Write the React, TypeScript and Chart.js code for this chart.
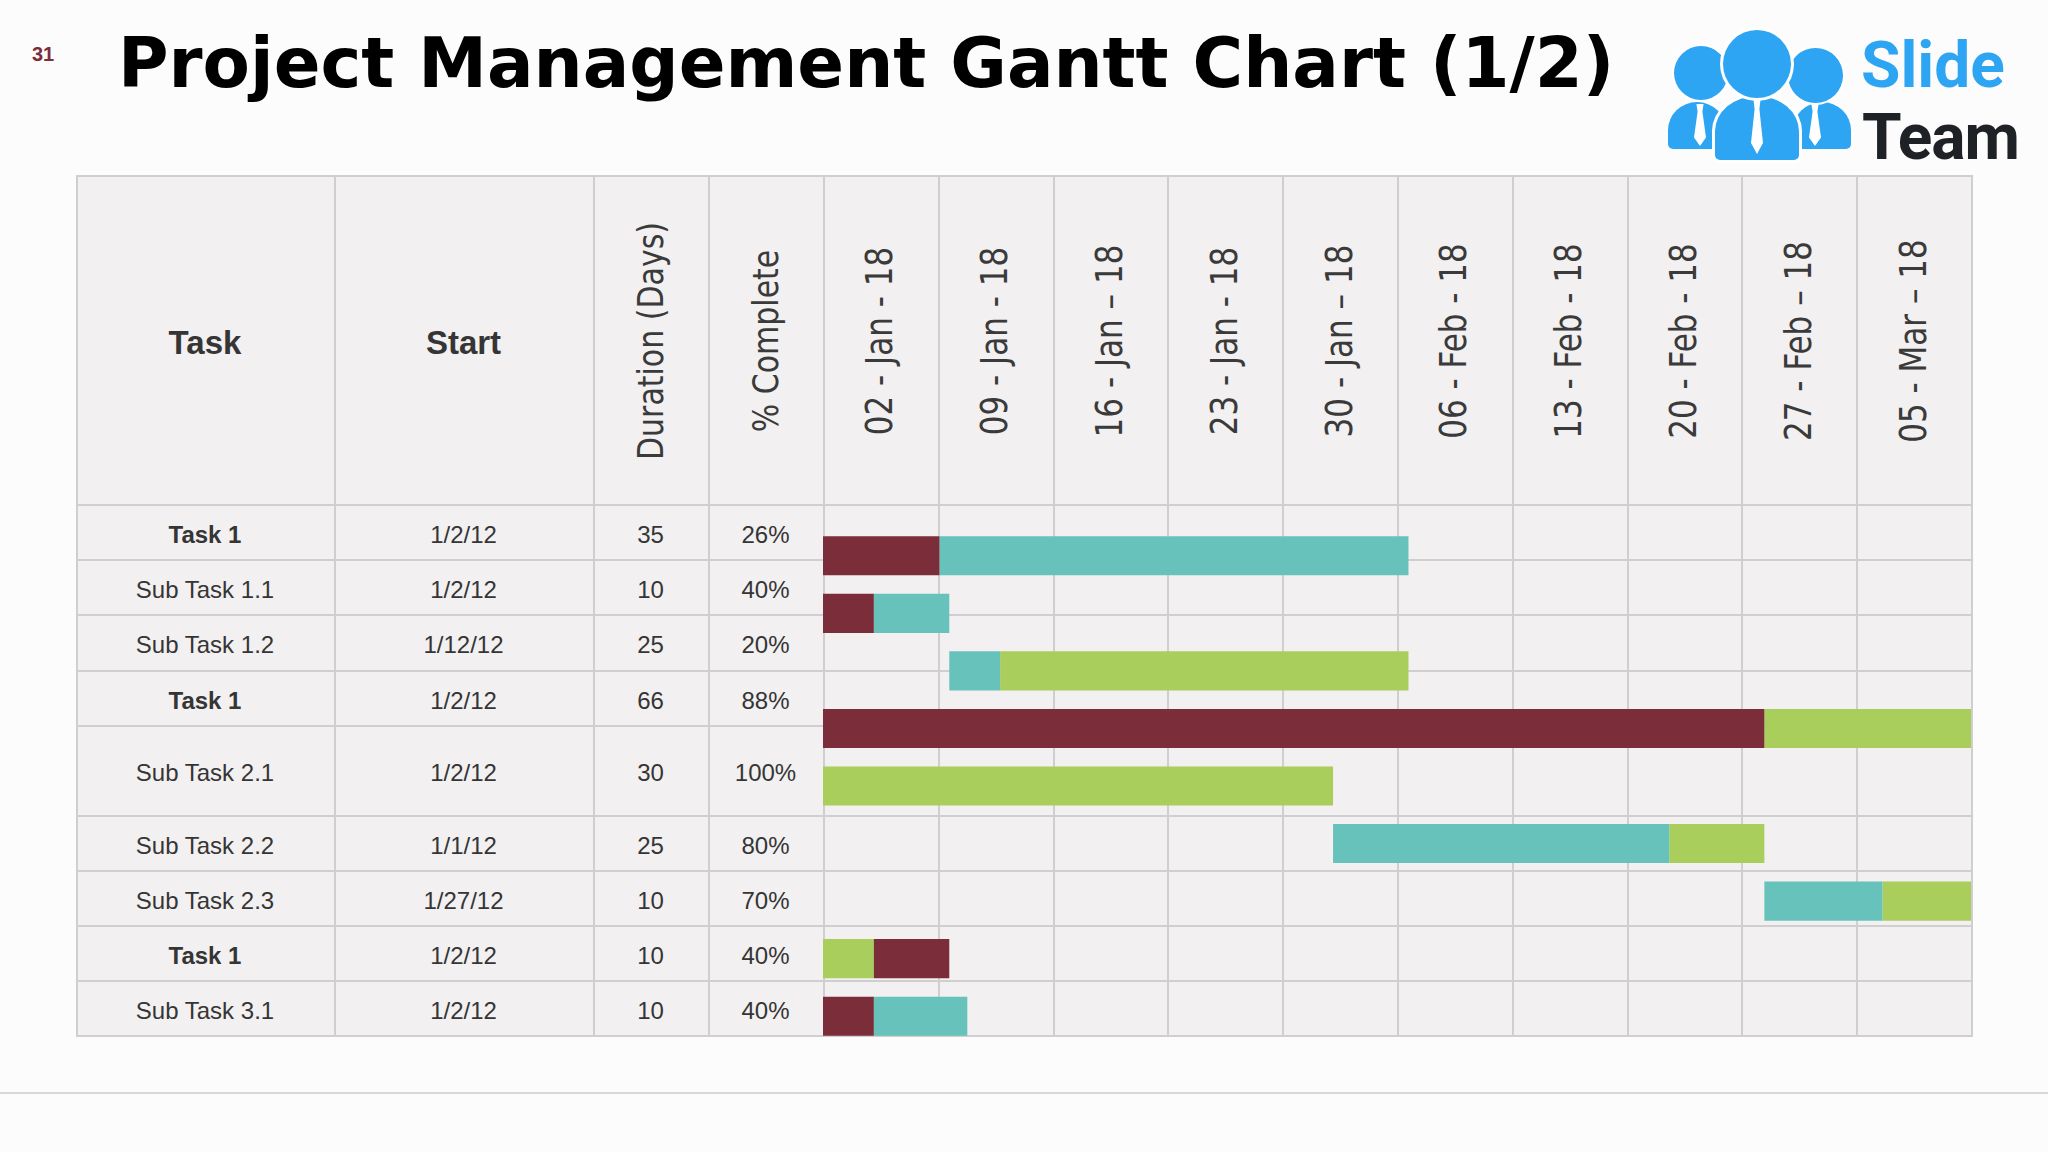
import React, { useEffect, useRef } from "react";
import { Chart, registerables } from "chart.js";

Chart.register(...registerables);

// ---------- data ----------
const taskNames = [
  "Task 1",
  "Sub Task 1.1",
  "Sub Task 1.2",
  "Task 1",
  "Sub Task 2.1",
  "Sub Task 2.2",
  "Sub Task 2.3",
  "Task 1",
  "Sub Task 3.1",
];
const isParent = [true, false, false, true, false, false, false, true, false];
const startDates = ["1/2/12", "1/2/12", "1/12/12", "1/2/12", "1/2/12", "1/1/12", "1/27/12", "1/2/12", "1/2/12"];
const durations = [35, 10, 25, 66, 30, 25, 10, 10, 10];
const percentComplete = ["26%", "40%", "20%", "88%", "100%", "80%", "70%", "40%", "40%"];
const weekLabels = [
  "02 - Jan - 18",
  "09 - Jan - 18",
  "16 - Jan – 18",
  "23 - Jan - 18",
  "30 - Jan – 18",
  "06 - Feb - 18",
  "13 - Feb - 18",
  "20 - Feb - 18",
  "27 - Feb – 18",
  "05 - Mar – 18",
];
// bar segments in days from 02-Jan
const maroonSegments: ([number, number] | null)[] = [
  [0, 7.1], [0, 3.1], null, [0, 57.4], null, null, null, [3.1, 7.7], [0, 3.1],
];
const tealSegments: ([number, number] | null)[] = [
  [7.1, 35.7], [3.1, 7.7], [7.7, 10.8], null, null, [31.1, 51.6], [57.4, 64.6], null, [3.1, 8.8],
];
const greenSegments: ([number, number] | null)[] = [
  null, null, [10.8, 35.7], [57.4, 70], [0, 31.1], [51.6, 57.4], [64.6, 70], [0, 3.1], null,
];
const timelineDays = 70;

// ---------- style ----------
const MAROON = "#7B2E3A";
const TEAL = "#67C2BB";
const GREEN = "#AACE5C";
const BLUE = "#2DA5F3";
const CELL_BG = "#F2F0F1";
const LINE = "#D0CFD0";
const TEXT = "#353535";

const TABLE_LEFT = 76;
const TABLE_RIGHT = 1971;
const GANTT_LEFT = 823;
const WEEK_W = (TABLE_RIGHT - GANTT_LEFT) / 10;
const colX = [76, 334, 593, 708, 823];
for (let i = 1; i <= 10; i++) colX.push(GANTT_LEFT + i * WEEK_W);
const rowY = [176, 505, 560, 615, 671, 726, 816, 871, 926, 981, 1036];

const CHART_TOP = 527;
const CHART_H = 518;

export default function App() {
  const ref = useRef<HTMLCanvasElement>(null);

  useEffect(() => {
    if (!ref.current) return;
    const common = { grouped: false, barPercentage: 0.68, categoryPercentage: 1, borderWidth: 0 };
    const chart = new Chart(ref.current, {
      type: "bar",
      data: {
        labels: taskNames,
        datasets: [
          { label: "Maroon", data: maroonSegments as any, backgroundColor: MAROON, ...common } as any,
          { label: "Teal", data: tealSegments as any, backgroundColor: TEAL, ...common } as any,
          { label: "Green", data: greenSegments as any, backgroundColor: GREEN, ...common } as any,
        ],
      },
      options: {
        indexAxis: "y",
        responsive: false,
        animation: false,
        layout: { padding: 0 },
        plugins: { legend: { display: false }, tooltip: { enabled: false } },
        scales: {
          x: { type: "linear", min: 0, max: timelineDays, display: false },
          y: { display: false },
        },
      },
    });
    return () => chart.destroy();
  }, []);

  const cellText = (
    key: string,
    x0: number,
    x1: number,
    y0: number,
    y1: number,
    text: string,
    style: React.CSSProperties
  ) => (
    <div
      key={key}
      style={{
        position: "absolute",
        left: x0,
        top: y0,
        width: x1 - x0,
        height: y1 - y0,
        display: "flex",
        alignItems: "center",
        justifyContent: "center",
        whiteSpace: "nowrap",
        color: TEXT,
        boxSizing: "border-box",
        ...style,
      }}
    >
      {text}
    </div>
  );

  const rotated = (key: string, cx: number, cy: number, text: string, size: number) => (
    <div
      key={key}
      style={{
        position: "absolute",
        left: cx,
        top: cy,
        transform: "translate(-50%, -50%) rotate(-90deg) scaleY(1.18)",
        fontFamily: "'DejaVu Sans', sans-serif",
        fontSize: size,
        lineHeight: 1,
        color: "#3a3a3a",
        whiteSpace: "nowrap",
      }}
    >
      {text}
    </div>
  );

  const headerMidY = (rowY[0] + rowY[1]) / 2;
  const bodyFont: React.CSSProperties = {
    fontFamily: "'Liberation Sans', Arial, sans-serif",
    fontSize: 24,
    paddingTop: 4,
  };

  return (
    <div
      style={{
        position: "absolute",
        left: 0,
        top: 0,
        width: 2048,
        height: 1152,
        overflow: "hidden",
        background: "#FCFCFC",
      }}
    >
      {/* page number */}
      <div
        style={{
          position: "absolute",
          left: 32,
          top: 44,
          fontFamily: "'Liberation Sans', Arial, sans-serif",
          fontWeight: 700,
          fontSize: 20,
          lineHeight: 1,
          color: MAROON,
        }}
      >
        31
      </div>
      {/* title */}
      <div
        style={{
          position: "absolute",
          left: 118,
          top: 29,
          fontFamily: "'DejaVu Sans', sans-serif",
          fontWeight: 700,
          fontSize: 69,
          lineHeight: 1,
          color: "#000",
          whiteSpace: "nowrap",
        }}
      >
        Project Management Gantt Chart (1/2)
      </div>

      {/* logo */}
      <div style={{ position: "absolute", left: 1668, top: 102, width: 58, height: 47, background: BLUE, borderRadius: "50% 50% 5px 5px / 60% 60% 5px 5px" }} />
      <div style={{ position: "absolute", left: 1793, top: 102, width: 58, height: 47, background: BLUE, borderRadius: "50% 50% 5px 5px / 60% 60% 5px 5px" }} />
      <div style={{ position: "absolute", left: 1674, top: 46, width: 54, height: 54, background: BLUE, borderRadius: "50%", boxShadow: "0 0 0 2px #fff" }} />
      <div style={{ position: "absolute", left: 1788, top: 48, width: 55, height: 55, background: BLUE, borderRadius: "50%", boxShadow: "0 0 0 2px #fff" }} />
      <div style={{ position: "absolute", left: 1715, top: 96, width: 84, height: 64, background: BLUE, borderRadius: "50% 50% 5px 5px / 55% 55% 5px 5px", boxShadow: "0 0 0 3px #fff" }} />
      <div style={{ position: "absolute", left: 1723, top: 30, width: 68, height: 68, background: BLUE, borderRadius: "50%", boxShadow: "0 0 0 3px #fff" }} />
      {[
        { x: 1700, y: 104, h: 42 },
        { x: 1757, y: 99, h: 55 },
        { x: 1815, y: 104, h: 42 },
      ].map((t, i) => (
        <div
          key={"tie" + i}
          style={{
            position: "absolute",
            left: t.x - 6,
            top: t.y,
            width: 12,
            height: t.h,
            background: "#fff",
            clipPath: "polygon(20% 0, 80% 0, 70% 18%, 100% 80%, 50% 100%, 0 80%, 30% 18%)",
          }}
        />
      ))}
      <div style={{ position: "absolute", left: 1861, top: 34, fontFamily: "Roboto, sans-serif", fontWeight: 700, fontSize: 64, lineHeight: 1, color: BLUE }}>
        Slide
      </div>
      <div style={{ position: "absolute", left: 1862, top: 106, fontFamily: "Roboto, sans-serif", fontWeight: 700, fontSize: 64, lineHeight: 1, color: "#1E2227", letterSpacing: -1 }}>
        Team
      </div>

      {/* table background */}
      <div
        style={{
          position: "absolute",
          left: TABLE_LEFT,
          top: rowY[0],
          width: TABLE_RIGHT - TABLE_LEFT,
          height: rowY[rowY.length - 1] - rowY[0],
          background: CELL_BG,
        }}
      />
      {/* vertical lines */}
      {colX.map((x, i) => (
        <div
          key={"v" + i}
          style={{
            position: "absolute",
            left: Math.round(x),
            top: rowY[0],
            width: 1.5,
            height: rowY[rowY.length - 1] - rowY[0],
            background: LINE,
          }}
        />
      ))}
      {/* horizontal lines */}
      {rowY.map((y, i) => (
        <div
          key={"h" + i}
          style={{
            position: "absolute",
            left: TABLE_LEFT,
            top: y - 1,
            width: TABLE_RIGHT - TABLE_LEFT + 1.5,
            height: 2,
            background: LINE,
          }}
        />
      ))}

      {/* header */}
      {cellText("hTask", colX[0], colX[1], rowY[0], rowY[1], "Task", {
        fontFamily: "'Liberation Sans', Arial, sans-serif",
        fontWeight: 700,
        fontSize: 33,
        paddingTop: 4,
      })}
      {cellText("hStart", colX[1], colX[2], rowY[0], rowY[1], "Start", {
        fontFamily: "'Liberation Sans', Arial, sans-serif",
        fontWeight: 700,
        fontSize: 33,
        paddingTop: 4,
      })}
      {rotated("hDur", (colX[2] + colX[3]) / 2, headerMidY, "Duration (Days)", 30)}
      {rotated("hPct", (colX[3] + colX[4]) / 2, headerMidY, "% Complete", 30)}
      {weekLabels.map((w, i) => rotated("w" + i, GANTT_LEFT + (i + 0.5) * WEEK_W, headerMidY, w, 31))}

      {/* body rows */}
      {taskNames.map((name, i) => {
        const y0 = rowY[i + 1];
        const y1 = rowY[i + 2];
        return (
          <React.Fragment key={"r" + i}>
            {cellText("n" + i, colX[0], colX[1], y0, y1, name, { ...bodyFont, fontWeight: isParent[i] ? 700 : 400 })}
            {cellText("s" + i, colX[1], colX[2], y0, y1, startDates[i], bodyFont)}
            {cellText("d" + i, colX[2], colX[3], y0, y1, String(durations[i]), bodyFont)}
            {cellText("p" + i, colX[3], colX[4], y0, y1, percentComplete[i], bodyFont)}
          </React.Fragment>
        );
      })}

      {/* gantt bars */}
      <canvas
        ref={ref}
        width={Math.round(TABLE_RIGHT - GANTT_LEFT)}
        height={CHART_H}
        style={{
          position: "absolute",
          left: GANTT_LEFT,
          top: CHART_TOP,
          width: Math.round(TABLE_RIGHT - GANTT_LEFT),
          height: CHART_H,
        }}
      />

      {/* footer line */}
      <div style={{ position: "absolute", left: 0, top: 1092, width: 2048, height: 2, background: "#D8D8D8" }} />
    </div>
  );
}
